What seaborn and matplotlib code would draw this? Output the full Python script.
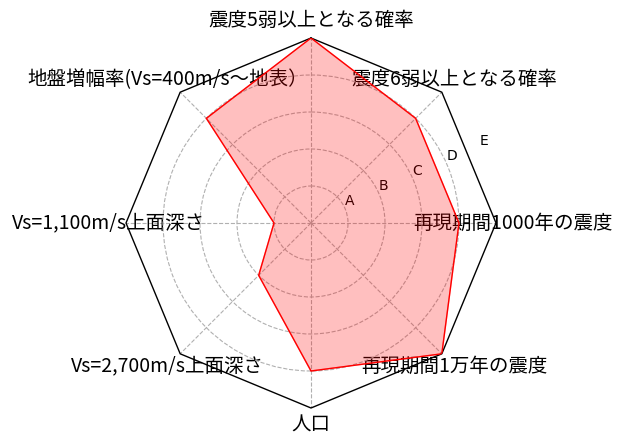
import numpy as np
import matplotlib
matplotlib.use("Agg")
import matplotlib.pyplot as plt
import seaborn as sns

# ================= DATA =================
labels = ["震度5弱以上となる確率", "震度6弱以上となる確率", "再現期間1000年の震度",
          "再現期間1万年の震度", "人口", "Vs=2,700m/s上面深さ",
          "Vs=1,100m/s上面深さ", "地盤増幅率(Vs=400m/s～地表）"]
values = [5, 4, 4, 5, 4, 2, 1, 4]
rank_ticks = [1, 2, 3, 4, 5]
rank_labels = ["A", "B", "C", "D", "E"]

sns.set_style("white")
plt.rcParams['font.family'] = ['Noto Sans CJK JP', 'DejaVu Sans']
plt.rcParams['text.color'] = 'black'
plt.rcParams['xtick.color'] = 'black'
plt.rcParams['ytick.color'] = 'black'

n = len(labels)
theta = np.linspace(0, 2 * np.pi, n, endpoint=False)
theta_c = np.append(theta, theta[0])
vals_c = np.append(values, values[0])

fig = plt.figure(figsize=(6.23, 4.46), dpi=100)
R = 185
ax = fig.add_axes([(311 - R) / 623, (223 - R) / 446, 2 * R / 623, 2 * R / 446], projection="polar")
ax.set_theta_offset(np.pi / 2)
ax.set_theta_direction(-1)
ax.set_ylim(0, 5)

# octagon frame instead of the circle
ax.spines['polar'].set_visible(False)
ax.plot(theta_c, [5] * (n + 1), color="black", lw=1, clip_on=False)

ax.plot(theta_c, vals_c, color="red", lw=1)
ax.fill(theta_c, vals_c, color="red", alpha=0.25)

ax.set_xticks(theta)
ax.set_xticklabels(labels, fontsize=14, color="black")
ax.tick_params(axis='x', pad=2)
ax.set_yticks(rank_ticks)
ax.set_yticklabels(rank_labels, fontsize=10, family='DejaVu Sans', color="black")
ax.set_rlabel_position(66)
ax.grid(True, color="#b0b0b0", linestyle="--", lw=0.8)
ax.yaxis.get_major_ticks()[-1].gridline.set_visible(False)

plt.savefig("out.png", dpi=100)
